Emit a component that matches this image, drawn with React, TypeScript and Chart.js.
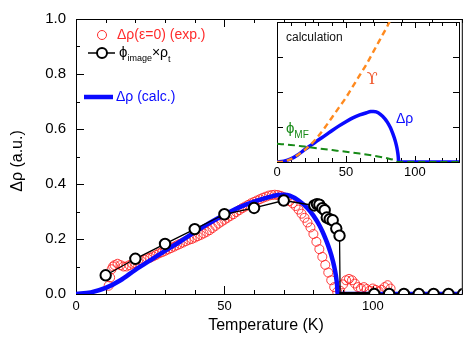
import React, { useEffect, useRef } from 'react';
import { Chart, registerables } from 'chart.js';
Chart.register(...registerables);

const FONT = "'Liberation Sans', Arial, Helvetica, sans-serif";

// ---- main panel data ----
const expT = [11, 11.5, 12, 12.5, 13, 14, 15, 16, 17, 18, 19, 20, 21, 22, 23, 24, 25, 26, 27, 28, 29, 30, 31, 32, 33, 34, 35, 36, 37, 38, 39, 40, 41, 42, 43, 44, 45, 46, 47, 48, 49, 50, 51, 52, 53, 54, 55, 56, 57, 58, 59, 60, 61, 62, 63, 64, 65, 66, 67, 68, 69, 70, 71, 72, 73, 74, 75, 76, 77, 78, 79, 80, 81, 82, 83, 84, 85, 86, 87, 88, 89, 90, 91, 92, 93, 94, 95, 96, 97, 98, 99, 100, 101, 102, 103, 104, 105, 106];
const expV = [0.03, 0.06, 0.09, 0.1, 0.105, 0.11, 0.105, 0.1, 0.1, 0.105, 0.11, 0.112, 0.115, 0.12, 0.125, 0.13, 0.132, 0.137, 0.142, 0.148, 0.152, 0.157, 0.162, 0.167, 0.172, 0.177, 0.182, 0.187, 0.192, 0.197, 0.2, 0.205, 0.21, 0.215, 0.22, 0.226, 0.232, 0.24, 0.248, 0.256, 0.263, 0.27, 0.277, 0.284, 0.29, 0.298, 0.305, 0.312, 0.318, 0.324, 0.33, 0.335, 0.34, 0.345, 0.35, 0.354, 0.358, 0.36, 0.361, 0.36, 0.357, 0.352, 0.346, 0.338, 0.33, 0.32, 0.307, 0.292, 0.277, 0.26, 0.242, 0.218, 0.19, 0.163, 0.135, 0.106, 0.078, 0.05, 0.025, 0.008, 0.012, 0.035, 0.05, 0.055, 0.05, 0.038, 0.025, 0.02, 0.025, 0.018, 0.012, 0.02, 0.015, 0.01, 0.015, 0.025, 0.032, 0.02];

const calcT = [0, 5, 10, 15, 20, 25, 30, 35, 40, 45, 50, 55, 60, 65, 68, 70, 72, 75, 78, 80, 82, 83, 84, 85, 86, 87, 87.6, 88, 88.2, 132];
const calcV = [0, 0.006, 0.022, 0.05, 0.088, 0.122, 0.157, 0.19, 0.225, 0.258, 0.288, 0.315, 0.336, 0.352, 0.36, 0.361, 0.358, 0.34, 0.312, 0.285, 0.25, 0.228, 0.203, 0.175, 0.142, 0.1, 0.065, 0.03, 0, 0];

const imgT = [10, 20, 30, 40, 50, 60, 70, 80.3, 81.2, 82.0, 83.0, 83.8, 84.5, 85.5, 86.5, 87.7, 88.8];
const imgV = [0.068, 0.128, 0.182, 0.236, 0.29, 0.313, 0.34, 0.322, 0.327, 0.325, 0.312, 0.305, 0.278, 0.272, 0.268, 0.238, 0.212];
const imgTailT = [89.0, 131];
const imgTailV = [0, 0];
const imgZeroT = [100.5, 105.5, 110.5, 115.5, 120.5, 125.5, 130.5];
const imgZeroV = [0, 0, 0, 0, 0, 0, 0];
const imgDenseT = [89.5, 90.5, 91.5, 92.5, 93.5, 94.5, 95.5, 96.5, 97.5, 98.5, 99.5, 100.5, 101.5];
const imgDenseV = [0, 0, 0, 0, 0, 0, 0, 0, 0, 0, 0, 0, 0];

const xTickVals = [0, 50, 100];
const xTickLabels = ['0', '50', '100'];
const yTickVals = [0, 0.2, 0.4, 0.6, 0.8, 1.0];
const yTickLabels = ['0.0', '0.2', '0.4', '0.6', '0.8', '1.0'];

// ---- inset data ----
const upsT = [0, 5, 10, 15, 20, 25, 30, 35, 40, 45, 50, 55, 60, 65, 70, 75, 80, 82];
const upsV = [0, 0.004, 0.02, 0.05, 0.085, 0.13, 0.185, 0.25, 0.32, 0.39, 0.46, 0.54, 0.62, 0.7, 0.79, 0.88, 0.97, 1.01];
const phiT = [0, 10, 20, 30, 40, 50, 60, 70, 80, 85, 88, 132];
const phiV = [0.13, 0.122, 0.11, 0.097, 0.085, 0.073, 0.06, 0.045, 0.027, 0.014, 0, 0];
const insetXTickVals = [0, 50, 100];
const insetXTickLabels = ['0', '50', '100'];

const pts = (xs: number[], ys: number[]) => xs.map((x, i) => ({ x, y: ys[i] }));

const RED = '#ff2b2b';
const BLUE = '#0a0aff';
const ORANGE = '#ff8a1f';
const GREEN = '#178a17';

const mainDeco = {
  id: 'mainDeco',
  beforeDatasetsDraw(chart: any) {
    const { ctx, chartArea: a, scales } = chart;
    const x = scales.x, y = scales.y;
    ctx.save();
    ctx.strokeStyle = '#000';
    ctx.lineWidth = 1;
    ctx.strokeRect(a.left + 0.5, a.top + 0.5, a.right - a.left, a.bottom - a.top);
    ctx.beginPath();
    for (let t = 0; t <= 130; t += 10) {
      const px = Math.round(x.getPixelForValue(t)) + 0.5;
      const len = t % 50 === 0 ? 8 : 4;
      ctx.moveTo(px, a.bottom);
      ctx.lineTo(px, a.bottom - len);
      ctx.moveTo(px, a.top);
      ctx.lineTo(px, a.top + len);
    }
    for (let k = 0; k <= 10; k++) {
      const py = Math.round(y.getPixelForValue(k / 10)) + 0.5;
      const len = k % 2 === 0 ? 8 : 4;
      ctx.moveTo(a.left, py);
      ctx.lineTo(a.left + len, py);
    }
    ctx.stroke();
    ctx.restore();
  },
  afterDraw(chart: any) {
    const { ctx, chartArea: a } = chart;
    ctx.save();
    ctx.textBaseline = 'middle';
    // axis titles
    ctx.fillStyle = '#000';
    ctx.font = `16px ${FONT}`;
    ctx.textAlign = 'center';
    ctx.fillText('Temperature (K)', 266, 326);
    ctx.save();
    ctx.translate(18, 161);
    ctx.rotate(-Math.PI / 2);
    ctx.fillText('Δρ (a.u.)', 0, 0);
    ctx.restore();

    // legend
    ctx.textAlign = 'left';
    const L = a.left;
    // exp
    ctx.strokeStyle = RED;
    ctx.lineWidth = 1;
    ctx.beginPath();
    ctx.arc(L + 26, 35, 4.5, 0, Math.PI * 2);
    ctx.stroke();
    ctx.fillStyle = RED;
    ctx.font = `14px ${FONT}`;
    ctx.fillText('Δρ(ε=0) (exp.)', L + 41, 35);
    // image
    ctx.strokeStyle = '#000';
    ctx.lineWidth = 1.5;
    ctx.beginPath();
    ctx.moveTo(L + 12, 53);
    ctx.lineTo(L + 39, 53);
    ctx.stroke();
    ctx.lineWidth = 2;
    ctx.fillStyle = '#fff';
    ctx.beginPath();
    ctx.arc(L + 26, 53, 5, 0, Math.PI * 2);
    ctx.fill();
    ctx.stroke();
    ctx.fillStyle = '#000';
    let xx = L + 43;
    ctx.font = `15px ${FONT}`;
    ctx.fillText('ϕ', xx, 53);
    xx += ctx.measureText('ϕ').width;
    ctx.font = `9px ${FONT}`;
    ctx.fillText('image', xx, 59);
    xx += ctx.measureText('image').width;
    ctx.font = `14px ${FONT}`;
    ctx.fillText('×ρ', xx, 53);
    xx += ctx.measureText('×ρ').width;
    ctx.font = `9px ${FONT}`;
    ctx.fillText('t', xx, 60);
    // calc
    ctx.strokeStyle = BLUE;
    ctx.lineWidth = 4.5;
    ctx.beginPath();
    ctx.moveTo(L + 8, 97);
    ctx.lineTo(L + 37, 97);
    ctx.stroke();
    ctx.fillStyle = BLUE;
    ctx.font = `14px ${FONT}`;
    ctx.fillText('Δρ (calc.)', L + 40, 97);
    ctx.restore();
  },
};

const insetDeco = {
  id: 'insetDeco',
  beforeDraw(chart: any) {
    const { ctx, chartArea: a } = chart;
    ctx.save();
    ctx.fillStyle = '#fff';
    ctx.fillRect(a.left, a.top, a.right - a.left + 1, a.bottom - a.top + 1);
    ctx.restore();
  },
  beforeDatasetsDraw(chart: any) {
    const { ctx, chartArea: a, scales } = chart;
    const x = scales.x, y = scales.y;
    ctx.save();
    ctx.strokeStyle = '#000';
    ctx.lineWidth = 1;
    ctx.strokeRect(a.left + 0.5, a.top + 0.5, a.right - a.left, a.bottom - a.top);
    ctx.beginPath();
    for (let t = 10; t <= 130; t += 10) {
      const px = Math.round(x.getPixelForValue(t)) + 0.5;
      const len = t % 50 === 0 ? 6 : 4;
      ctx.moveTo(px, a.bottom);
      ctx.lineTo(px, a.bottom - len);
      ctx.moveTo(px, a.top);
      ctx.lineTo(px, a.top + len);
    }
    for (let k = 1; k <= 3; k++) {
      const py = Math.round(y.getPixelForValue(k / 4)) + 0.5;
      ctx.moveTo(a.left, py);
      ctx.lineTo(a.left + 6, py);
      ctx.moveTo(a.right, py);
      ctx.lineTo(a.right - 6, py);
    }
    ctx.stroke();
    ctx.restore();
  },
  afterDraw(chart: any) {
    const { ctx, scales } = chart;
    const x = scales.x, y = scales.y;
    ctx.save();
    ctx.textBaseline = 'middle';
    ctx.textAlign = 'left';
    ctx.fillStyle = '#111';
    ctx.font = `12px ${FONT}`;
    ctx.fillText('calculation', x.getPixelForValue(6.5), y.getPixelForValue(0.886));
    ctx.fillStyle = '#f0562a';
    ctx.font = `16px 'DejaVu Serif', 'DejaVu Sans', serif`;
    ctx.textAlign = 'center';
    ctx.fillText('ϒ', x.getPixelForValue(69), y.getPixelForValue(0.586));
    ctx.textAlign = 'left';
    ctx.fillStyle = BLUE;
    ctx.font = `14px ${FONT}`;
    ctx.fillText('Δρ', x.getPixelForValue(86.3), y.getPixelForValue(0.307));
    ctx.fillStyle = GREEN;
    ctx.font = `15px ${FONT}`;
    const px = x.getPixelForValue(6.5);
    const py = y.getPixelForValue(0.236);
    ctx.fillText('ϕ', px, py);
    const w = ctx.measureText('ϕ').width;
    ctx.font = `10px ${FONT}`;
    ctx.fillText('MF', px + w, py + 6);
    ctx.restore();
  },
};

export default function App() {
  const mainRef = useRef<HTMLCanvasElement>(null);
  const insetRef = useRef<HTMLCanvasElement>(null);

  useEffect(() => {
    const main = new Chart(mainRef.current as HTMLCanvasElement, {
      type: 'scatter',
      data: {
        datasets: [
          {
            data: pts(imgT, imgV),
            showLine: false,
            pointRadius: 5.2,
            pointBorderWidth: 2,
            pointBorderColor: '#000',
            pointBackgroundColor: '#fff',
            order: 1,
            clip: 0,
          } as any,
          {
            data: pts(imgZeroT, imgZeroV),
            showLine: false,
            pointRadius: 5.2,
            pointBorderWidth: 2,
            pointBorderColor: '#000',
            pointBackgroundColor: '#fff',
            order: 1.5,
            clip: 0,
          },
          {
            data: pts(imgDenseT, imgDenseV),
            showLine: false,
            pointStyle: 'rect',
            pointRadius: 2.2,
            pointBorderWidth: 1,
            pointBorderColor: '#000',
            pointBackgroundColor: '#000',
            order: 1.6,
            clip: 0,
          },
          {
            data: pts(imgT.concat(imgTailT), imgV.concat(imgTailV)),
            showLine: true,
            borderColor: '#000',
            borderWidth: 1.3,
            pointRadius: 0,
            order: 2,
            clip: 0,
          },
          {
            data: pts(calcT, calcV),
            showLine: true,
            borderColor: BLUE,
            borderWidth: 4.5,
            pointRadius: 0,
            cubicInterpolationMode: 'monotone',
            order: 3,
            clip: 0,
          },
          {
            data: pts(expT, expV),
            showLine: false,
            pointRadius: 4.5,
            pointBorderWidth: 1,
            pointBorderColor: 'rgba(255,30,30,0.85)',
            pointBackgroundColor: 'rgba(0,0,0,0)',
            order: 4,
            clip: 0,
          },
        ],
      },
      options: {
        responsive: false,
        animation: false,
        devicePixelRatio: 1,
        events: [],
        layout: { padding: { top: 13, right: 3, left: 0, bottom: 0 } },
        plugins: { legend: { display: false }, tooltip: { enabled: false } },
        scales: {
          x: {
            type: 'linear',
            min: 0,
            max: 130,
            grid: { display: false, drawTicks: false },
            border: { display: false },
            afterFit: (s: any) => { s.height = 43; },
            afterBuildTicks: (s: any) => { s.ticks = xTickVals.map((v) => ({ value: v })); },
            ticks: {
              color: '#000',
              font: { family: FONT, size: 13 },
              padding: 5,
              maxRotation: 0,
              autoSkip: false,
              callback: (_v: any, i: number) => xTickLabels[i],
            },
          },
          y: {
            type: 'linear',
            min: 0,
            max: 1,
            grid: { display: false, drawTicks: false },
            border: { display: false },
            afterFit: (s: any) => { s.width = 76; },
            afterBuildTicks: (s: any) => { s.ticks = yTickVals.map((v) => ({ value: v })); },
            ticks: {
              color: '#000',
              font: { family: FONT, size: 15 },
              padding: 10,
              autoSkip: false,
              callback: (_v: any, i: number) => yTickLabels[i],
            },
          },
        },
      } as any,
      plugins: [mainDeco],
    });

    const inset = new Chart(insetRef.current as HTMLCanvasElement, {
      type: 'scatter',
      data: {
        datasets: [
          {
            data: pts(upsT, upsV),
            showLine: true,
            borderColor: ORANGE,
            borderWidth: 2.4,
            borderDash: [6, 4],
            pointRadius: 0,
            cubicInterpolationMode: 'monotone',
            order: 1,
            clip: 0,
          } as any,
          {
            data: pts(phiT, phiV),
            showLine: true,
            borderColor: GREEN,
            borderWidth: 2,
            borderDash: [7, 4],
            pointRadius: 0,
            cubicInterpolationMode: 'monotone',
            order: 2,
            clip: 0,
          },
          {
            data: pts(calcT, calcV),
            showLine: true,
            borderColor: BLUE,
            borderWidth: 3.5,
            pointRadius: 0,
            cubicInterpolationMode: 'monotone',
            order: 3,
            clip: 0,
          },
        ],
      },
      options: {
        responsive: false,
        animation: false,
        devicePixelRatio: 1,
        events: [],
        layout: { padding: { top: 12, right: 10, left: 15, bottom: 0 } },
        plugins: { legend: { display: false }, tooltip: { enabled: false } },
        scales: {
          x: {
            type: 'linear',
            min: 0,
            max: 132,
            grid: { display: false, drawTicks: false },
            border: { display: false },
            afterFit: (s: any) => { s.height = 28; },
            afterBuildTicks: (s: any) => { s.ticks = insetXTickVals.map((v) => ({ value: v })); },
            ticks: {
              color: '#000',
              font: { family: FONT, size: 13 },
              padding: 3,
              maxRotation: 0,
              autoSkip: false,
              callback: (_v: any, i: number) => insetXTickLabels[i],
            },
          },
          y: { type: 'linear', min: 0, max: 1, display: false },
        },
      } as any,
      plugins: [insetDeco],
    });

    return () => {
      main.destroy();
      inset.destroy();
    };
  }, []);

  return (
    <div style={{ position: 'absolute', left: 0, top: 0, width: 469, height: 337, background: '#fff' }}>
      <canvas ref={mainRef} width={469} height={337} style={{ position: 'absolute', left: 0, top: 0 }} />
      <canvas ref={insetRef} width={207} height={180} style={{ position: 'absolute', left: 262, top: 10 }} />
    </div>
  );
}
